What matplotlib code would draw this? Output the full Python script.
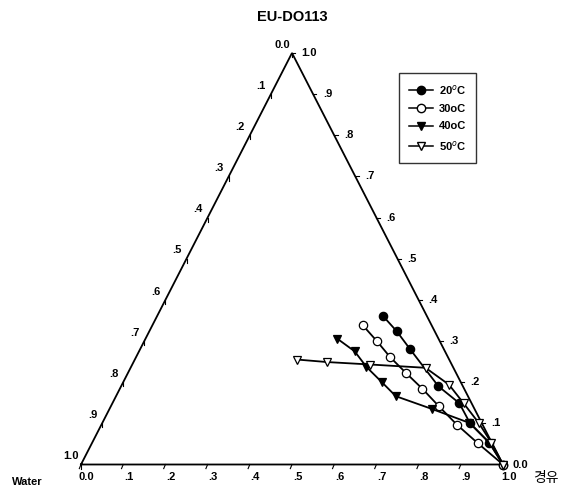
import numpy as np
import matplotlib
matplotlib.use("Agg")
import matplotlib.pyplot as plt
from matplotlib.lines import Line2D

# Data: ternary fractions (diesel = 경유, surfactant = top component), water = 1 - diesel - surf
labels = ["20$^o$C", "30oC", "40oC", "50$^o$C"]
diesel_20 = [0.535, 0.586, 0.640, 0.752, 0.822, 0.871, 0.941, 1.0]
surf_20   = [0.361, 0.324, 0.280, 0.190, 0.149, 0.101, 0.053, 0.0]
diesel_30 = [0.499, 0.551, 0.602, 0.658, 0.717, 0.778, 0.842, 0.914, 1.0]
surf_30   = [0.338, 0.300, 0.261, 0.223, 0.184, 0.141, 0.097, 0.052, 0.0]
diesel_40 = [0.454, 0.511, 0.558, 0.613, 0.663, 0.764, 0.870, 0.941, 1.0]
surf_40   = [0.306, 0.275, 0.237, 0.200, 0.166, 0.135, 0.101, 0.053, 0.0]
diesel_50 = [0.385, 0.458, 0.564, 0.699, 0.775, 0.832, 0.892, 0.946, 1.0]
surf_50   = [0.255, 0.249, 0.243, 0.235, 0.194, 0.149, 0.101, 0.053, 0.0]
tick_vals = [i / 10 for i in range(11)]
tick_text = ["0.0", ".1", ".2", ".3", ".4", ".5", ".6", ".7", ".8", ".9", "1.0"]

def tern(d, s):
    d = np.asarray(d, float); s = np.asarray(s, float)
    return d + s / 2.0, s

W, H = 564, 495
fig = plt.figure(figsize=(W / 100, H / 100), dpi=100)
ax = fig.add_axes([0, 0, 1, 1])
x0px, y0px, wpx, hpx = 81, 30.5, 422, 411.5
ax.set_xlim(-x0px / wpx, (W - x0px) / wpx)
ax.set_ylim(-y0px / hpx, (H - y0px) / hpx)
ax.axis("off")

# triangle
ax.plot([0, 1, 0.5, 0], [0, 0, 1, 0], color="black", lw=1.3, solid_joinstyle="miter")

tfont = dict(fontsize=8, fontweight="bold", family="Liberation Sans")
tick_len = 0.010
for v, t in zip(tick_vals, tick_text):
    # bottom axis
    ax.plot([v, v - 0.004], [0, -tick_len], color="black", lw=0.8)
    ax.annotate(t, (v, 0), xytext=(4, -9), textcoords="offset points",
                ha="center", va="center", **tfont)
    # left axis (water: 0 at top, 1 at bottom)
    xl, yl = tern(0, 1 - v)
    ax.plot([xl, xl], [yl, yl - tick_len], color="black", lw=0.8)
    ax.annotate(t, (xl, yl), xytext=(-7, 6), textcoords="offset points",
                ha="center", va="center", **tfont)
    # right axis (surfactant: 1 at top, 0 at bottom)
    xr, yr = tern(1 - v, v)
    ax.plot([xr, xr + 0.008], [yr, yr], color="black", lw=0.8)
    ax.annotate(t, (xr, yr), xytext=(7, 0), textcoords="offset points",
                ha="left", va="center", **tfont)

series = [
    (diesel_20, surf_20, "o", "black"),
    (diesel_30, surf_30, "o", "white"),
    (diesel_40, surf_40, "v", "black"),
    (diesel_50, surf_50, "v", "white"),
]
handles = []
for (d, s, m, fc), lab in zip(series, labels):
    x, y = tern(d, s)
    ax.plot(x, y, color="black", lw=1.3, marker=m, markersize=6,
            markerfacecolor=fc, markeredgecolor="black", markeredgewidth=0.9, zorder=3)
    handles.append(Line2D([], [], color="black", lw=1.1, marker=m, markersize=6,
                          markerfacecolor=fc, markeredgecolor="black", label=lab))

leg = ax.legend(handles=handles, loc="upper left", bbox_to_anchor=(399 / W, 1 - 73 / H),
                bbox_transform=fig.transFigure, frameon=True, fancybox=False,
                prop=dict(size=8, weight="bold", family="Liberation Sans"),
                labelspacing=0.65, handlelength=2.2, handletextpad=0.5,
                borderpad=0.9, borderaxespad=0)
leg.get_frame().set_edgecolor("black")
leg.get_frame().set_linewidth(1.0)

fig.text(292 / W, 1 - 17 / H, "EU-DO113", ha="center", va="center",
         fontsize=10.5, fontweight="bold", family="Liberation Sans")
fig.text(27 / W, 1 - 482 / H, "Water", ha="center", va="center",
         fontsize=8, fontweight="bold", family="Liberation Sans")
fig.text(546 / W, 1 - 478 / H, "경유", ha="center", va="center",
         fontsize=10, family=["Noto Sans CJK KR", "DejaVu Sans"])

fig.savefig("out.png", dpi=100)
